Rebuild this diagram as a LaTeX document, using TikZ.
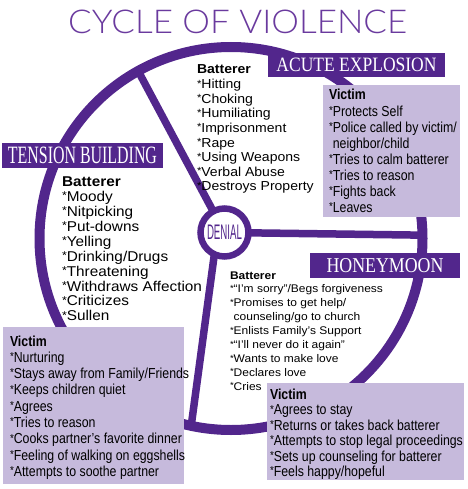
\documentclass[tikz,border=0pt]{standalone}
\usepackage{fontspec}
\setmainfont{Liberation Sans}
\newfontfamily\batfont[FakeStretch=1.08]{Liberation Sans}
\newfontfamily\vicfont[FakeStretch=0.85]{Liberation Sans}
\newfontfamily\banfont{Liberation Serif}
\newfontfamily\titlefont{Lato Light}
\newfontfamily\denfont{Liberation Sans}
\definecolor{pur}{HTML}{52268C}
\definecolor{lav}{HTML}{C6BADC}
\definecolor{titlec}{HTML}{6A3A9E}
\newcommand\myast{\raisebox{0.12em}{\scalebox{0.8}{*}}}
\pgfdeclarelayer{background}
\pgfsetlayers{background,main}
\begin{document}
\begin{tikzpicture}[x=1pt,y=-1pt,
  ringst/.style={circle, draw=pur, line width=10pt, minimum size=383pt, inner sep=0pt, outer sep=0pt},
  spoke/.style={draw=pur, line width=7.5pt},
  denialst/.style={circle, draw=pur, fill=white, text=pur, line width=6.5pt, minimum size=48pt, inner sep=0pt, outer sep=0pt},
  banner/.style={fill=pur, text=white, inner sep=0pt, outer sep=0pt, font=\banfont},
  vicbox/.style={fill=lav, inner sep=0pt, outer sep=0pt, anchor=north west},
  itemline/.style={anchor=base west, inner sep=0pt, outer sep=0pt, text=black}]
\useasboundingbox (0,0) rectangle (467,489);

% title
\node[anchor=south west, inner sep=0pt, text=titlec] (title) at (68,33.5)
  {\resizebox{339pt}{23.5pt}{\titlefont CYCLE OF VIOLENCE}};

% ring and denial hub
\node[ringst] (ring) at (231,238.5) {};
\node[denialst] (denial) at (224.5,232.5) {\resizebox{35pt}{14.5pt}{\denfont DENIAL}};
\begin{pgfonlayer}{background}
\draw[spoke] (ring.119.4) -- (denial.center);
\draw[spoke] (denial.center) -- (ring.1.8);
\draw[spoke] (denial.245) -- (ring.-102.4);
\end{pgfonlayer}

% victim boxes
\node[vicbox, minimum width=137pt, minimum height=132pt] (avbox) at (323,85) {};
\node[vicbox, minimum width=181pt, minimum height=157pt] (tvbox) at (3,327) {};
\node[vicbox, minimum width=197pt, minimum height=97pt] (hvbox) at (267,383) {};

% banners
\node[banner, minimum width=161pt, minimum height=25pt] (tbban) at (82.5,155.5)
  {\resizebox{149pt}{16.5pt}{TENSION BUILDING}};
\node[banner, minimum width=177pt, minimum height=24pt] (aeban) at (356.5,65)
  {\resizebox{160pt}{13.5pt}{ACUTE EXPLOSION}};
\node[banner, minimum width=150pt, minimum height=25pt] (hmban) at (385,265.5)
  {\resizebox{117pt}{14pt}{HONEYMOON}};

% acute explosion batterer
\foreach \t [count=\i from 0] in {{\bfseries Batterer},{\myast Hitting},{\myast Choking},{\myast Humiliating},{\myast Imprisonment},{\myast Rape},{\myast Using Weapons},{\myast Verbal Abuse},{\myast Destroys Property}}
  \node[itemline, font=\batfont\fontsize{13}{13}\selectfont] (ab\i) at (197,{74+14.6*\i}) {\t};

% tension building batterer
\foreach \t [count=\i from 0] in {{\bfseries Batterer},{\myast Moody},{\myast Nitpicking},{\myast Put-downs},{\myast Yelling},{\myast Drinking/Drugs},{\myast Threatening},{\myast Withdraws Affection},{\myast Criticizes},{\myast Sullen}}
  \node[itemline, font=\batfont\fontsize{14.2}{14.2}\selectfont] (tb\i) at (62,{186.7+14.9*\i}) {\t};

% honeymoon batterer
\foreach \t [count=\i from 0] in {{\bfseries Batterer},{\myast“I’m sorry”/Begs forgiveness},{\myast Promises to get help/},{\phantom{\myast}counseling/go to church},{\myast Enlists Family’s Support},{\myast“I’ll never do it again”},{\myast Wants to make love},{\myast Declares love},{\myast Cries}}
  \node[itemline, font=\batfont\fontsize{11.1}{11.1}\selectfont] (hb\i) at (230,{279+13.9*\i}) {\t};

% acute explosion victim
\foreach \t [count=\i from 0] in {{\bfseries Victim},{\myast Protects Self},{\myast Police called by victim/},{\phantom{\myast}neighbor/child},{\myast Tries to calm batterer},{\myast Tries to reason},{\myast Fights back},{\myast Leaves}}
  \node[itemline, font=\vicfont\fontsize{14.5}{14.5}\selectfont] (av\i) at (329,{100+16.1*\i}) {\t};

% tension building victim
\foreach \t [count=\i from 0] in {{\bfseries Victim},{\myast Nurturing},{\myast Stays away from Family/Friends},{\myast Keeps children quiet},{\myast Agrees},{\myast Tries to reason},{\myast Cooks partner’s favorite dinner},{\myast Feeling of walking on eggshells},{\myast Attempts to soothe partner}}
  \node[itemline, font=\vicfont\fontsize{14.5}{14.5}\selectfont] (tv\i) at (10,{346+16.3*\i}) {\t};

% honeymoon victim
\foreach \t [count=\i from 0] in {{\bfseries Victim},{\myast Agrees to stay},{\myast Returns or takes back batterer},{\myast Attempts to stop legal proceedings},{\myast Sets up counseling for batterer},{\myast Feels happy/hopeful}}
  \node[itemline, font=\vicfont\fontsize{14.5}{14.5}\selectfont] (hv\i) at (270,{399.5+15.4*\i}) {\t};
\end{tikzpicture}
\end{document}
